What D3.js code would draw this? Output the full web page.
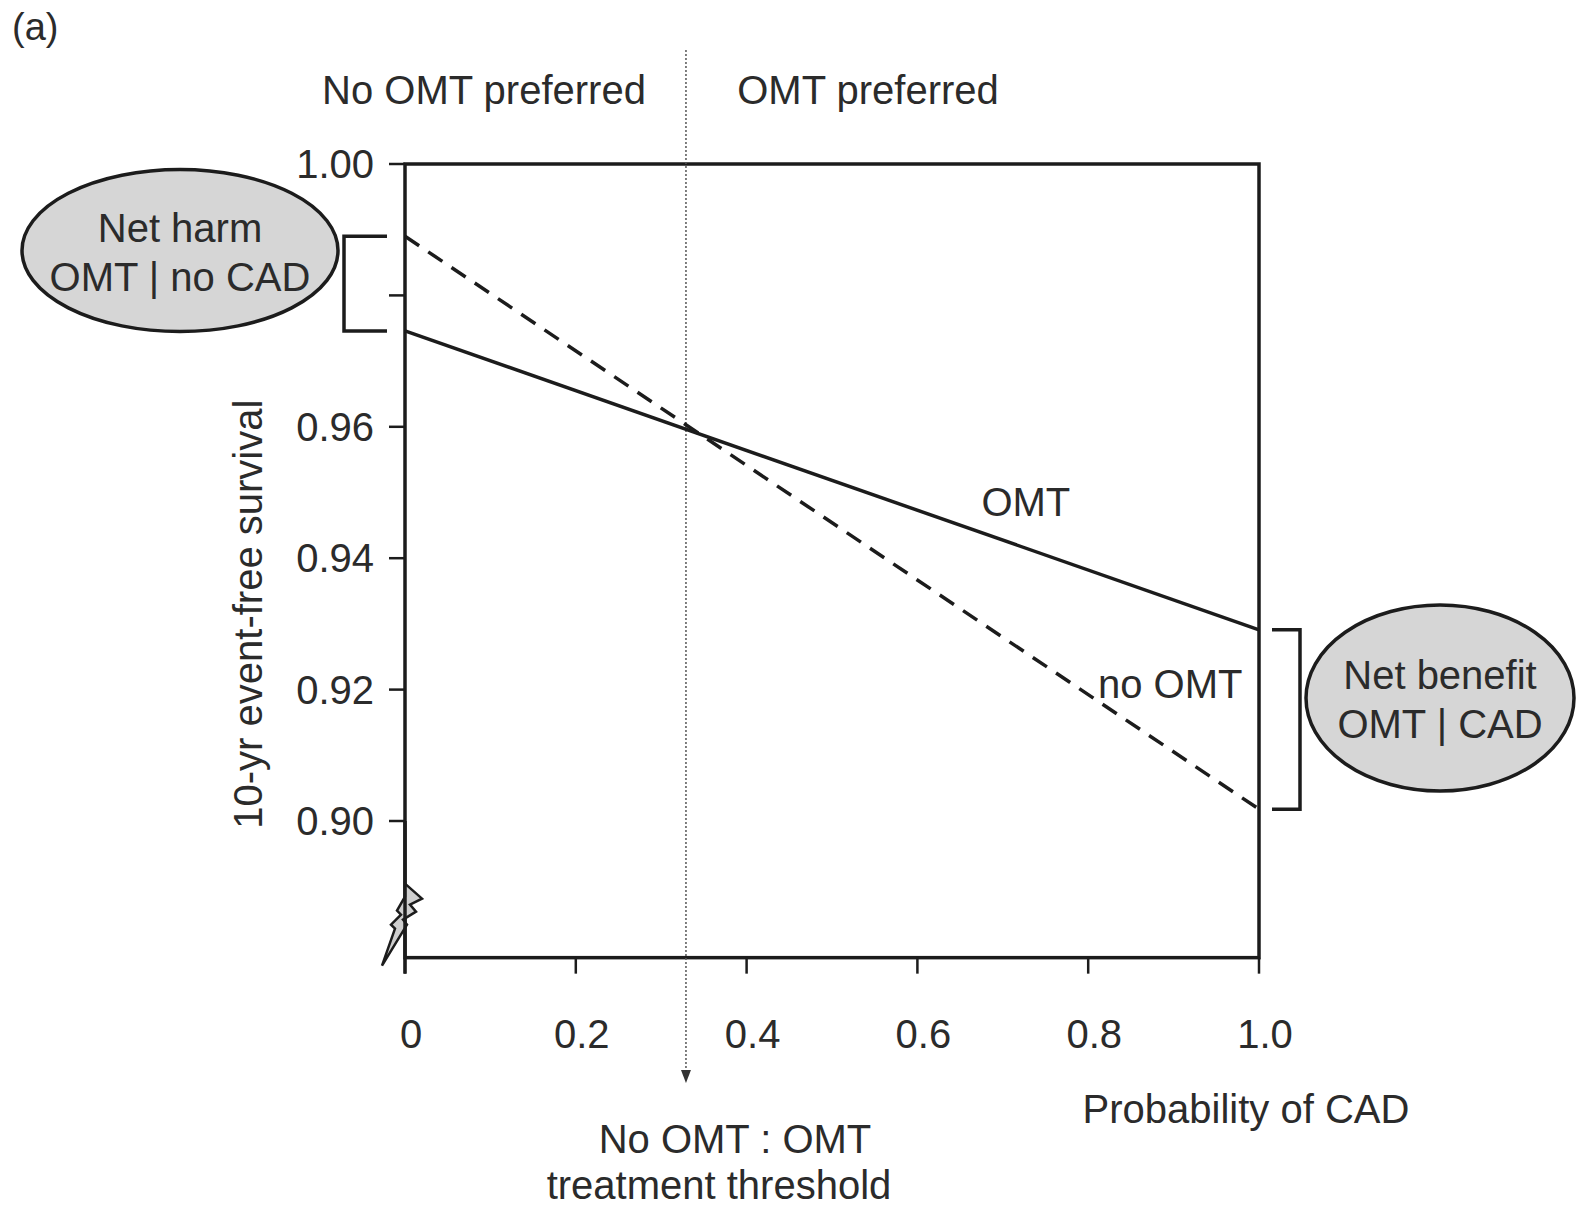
<!DOCTYPE html>
<html>
<head>
<meta charset="utf-8">
<script src="https://cdn.jsdelivr.net/npm/d3@7"></script>
<style>
  body { margin: 0; background: #fff; }
  svg text { font-family: "Liberation Sans", Arial, sans-serif; fill: #2b2b2b; }
</style>
</head>
<body>
<svg id="chart" width="1586" height="1206"></svg>
<script>
// data
const probCAD = [0, 1];
const survOMT = [0.9746, 0.9291];
const survNoOMT = [0.989, 0.9018];
const threshold = 0.329;
const xTicks = [0, 0.2, 0.4, 0.6, 0.8, 1.0];
const xTickLabels = ["0", "0.2", "0.4", "0.6", "0.8", "1.0"];
const yTicks = [0.90, 0.92, 0.94, 0.96, 0.98, 1.00];
const yTickLabels = ["0.90", "0.92", "0.94", "0.96", "", "1.00"];
const yBreakBottom = 0.8792;

const svg = d3.select("#chart");
const ink = "#1c1c1c";

const x = d3.scaleLinear().domain([0, 1]).range([405, 1259]);
const y = d3.scaleLinear().domain([0.90, 1.00]).range([821, 164]);
const yBottom = y(yBreakBottom);

// frame
svg.append("rect")
    .attr("x", x(0)).attr("y", y(1))
    .attr("width", x(1) - x(0)).attr("height", yBottom - y(1))
    .attr("fill", "none").attr("stroke", ink).attr("stroke-width", 3.5);

// y ticks
const yg = svg.append("g");
yTicks.forEach((t, i) => {
    yg.append("line")
        .attr("x1", x(0) - 16).attr("x2", x(0))
        .attr("y1", y(t)).attr("y2", y(t))
        .attr("stroke", ink).attr("stroke-width", 2.5);
    if (yTickLabels[i]) {
        yg.append("text")
            .attr("x", x(0) - 31).attr("y", y(t))
            .attr("dy", "0.35em")
            .attr("text-anchor", "end")
            .style("font-size", "40px")
            .text(yTickLabels[i]);
    }
});

// x ticks
const xg = svg.append("g");
xTicks.forEach((t, i) => {
    xg.append("line")
        .attr("x1", x(t)).attr("x2", x(t))
        .attr("y1", yBottom).attr("y2", yBottom + 16)
        .attr("stroke", ink).attr("stroke-width", 2.5);
    xg.append("text")
        .attr("x", x(t) + 6).attr("y", yBottom + 90)
        .attr("text-anchor", "middle")
        .style("font-size", "40px")
        .text(xTickLabels[i]);
});

// axis break (lightning)
const bx = x(0), by = yBottom;
const boltPts = [[0, -74], [17, -59], [5, -53], [11, -46], [-2, -38], [2, -33], [-23, 8],
                 [-10, -29], [-14, -33], [-4, -43], [-8, -47], [0, -61]];
svg.append("polygon")
    .attr("points", boltPts.map(p => [bx + p[0], by + p[1]].join(",")).join(" "))
    .attr("fill", "#cfcfcf").attr("stroke", ink).attr("stroke-width", 2.5)
    .attr("stroke-linejoin", "miter");
svg.append("line")
    .attr("x1", bx).attr("x2", bx).attr("y1", y(0.90)).attr("y2", by + 16)
    .attr("stroke", ink).attr("stroke-width", 3.5);

// threshold dotted line with arrow
const tx = x(threshold);
svg.append("line")
    .attr("x1", tx).attr("x2", tx).attr("y1", 50).attr("y2", 1074)
    .attr("stroke", "#555").attr("stroke-width", 1.5)
    .attr("stroke-dasharray", "2,2");
svg.append("path")
    .attr("d", `M${tx - 5},${1070} L${tx + 5},${1070} L${tx},${1083} Z`)
    .attr("fill", "#333");

// lines
const line = d3.line().x(d => x(d[0])).y(d => y(d[1]));
svg.append("path")
    .datum(probCAD.map((p, i) => [p, survOMT[i]]))
    .attr("d", line)
    .attr("fill", "none").attr("stroke", ink).attr("stroke-width", 3.5);
svg.append("path")
    .datum(probCAD.map((p, i) => [p, survNoOMT[i]]))
    .attr("d", line)
    .attr("fill", "none").attr("stroke", ink).attr("stroke-width", 3.5)
    .attr("stroke-dasharray", "17,11");

// line labels
svg.append("text").attr("x", x(0.727)).attr("y", 516)
    .attr("text-anchor", "middle").style("font-size", "40px").text("OMT");
svg.append("text").attr("x", x(0.896)).attr("y", 698)
    .attr("text-anchor", "middle").style("font-size", "40px").text("no OMT");

// brackets
const lb = x(0) - 61;
svg.append("path")
    .attr("d", `M${x(0) - 18},${y(survNoOMT[0])} H${lb} V${y(survOMT[0])} H${x(0) - 18}`)
    .attr("fill", "none").attr("stroke", ink).attr("stroke-width", 3.5);
const rb = x(1) + 41;
svg.append("path")
    .attr("d", `M${x(1) + 13},${y(survOMT[1])} H${rb} V${y(survNoOMT[1])} H${x(1) + 13}`)
    .attr("fill", "none").attr("stroke", ink).attr("stroke-width", 3.5);

// ellipses
function bubble(cx, cy, rx, ry, lines) {
    svg.append("ellipse")
        .attr("cx", cx).attr("cy", cy).attr("rx", rx).attr("ry", ry)
        .attr("fill", "#d6d6d6").attr("stroke", ink).attr("stroke-width", 3.5);
    lines.forEach((t, i) => {
        svg.append("text")
            .attr("x", cx).attr("y", cy - 9 + i * 49)
            .attr("text-anchor", "middle")
            .style("font-size", "40px")
            .text(t);
    });
}
bubble(180, (y(survNoOMT[0]) + y(survOMT[0])) / 2 - 33, 158, 81, ["Net harm", "OMT | no CAD"]);
bubble(1440, 698, 134, 93, ["Net benefit", "OMT | CAD"]);

// headings and titles
svg.append("text").attr("x", 12).attr("y", 40).style("font-size", "38px").text("(a)");
svg.append("text").attr("x", 484).attr("y", 104)
    .attr("text-anchor", "middle").style("font-size", "40px").text("No OMT preferred");
svg.append("text").attr("x", 868).attr("y", 104)
    .attr("text-anchor", "middle").style("font-size", "40px").text("OMT preferred");
svg.append("text")
    .attr("transform", `translate(262, ${(y(0.90) + y(0.966)) / 2 + 10}) rotate(-90)`)
    .attr("text-anchor", "middle").style("font-size", "40px")
    .text("10-yr event-free survival");
svg.append("text").attr("x", 1246).attr("y", 1123)
    .attr("text-anchor", "middle").style("font-size", "40px").text("Probability of CAD");
svg.append("text").attr("x", 735).attr("y", 1153)
    .attr("text-anchor", "middle").style("font-size", "40px").text("No OMT : OMT");
svg.append("text").attr("x", 719).attr("y", 1199)
    .attr("text-anchor", "middle").style("font-size", "40px").text("treatment threshold");
</script>
</body>
</html>
